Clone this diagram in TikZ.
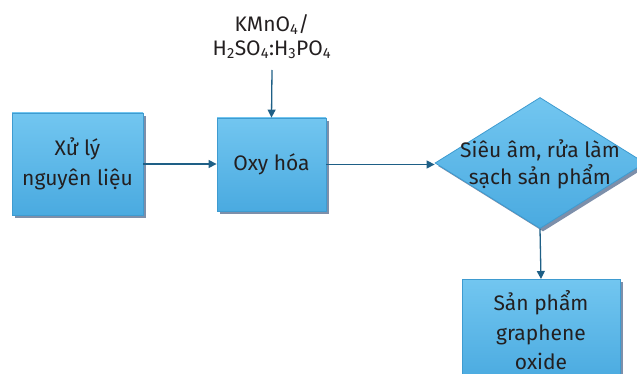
\documentclass[tikz,border=0pt]{standalone}
\usepackage{fontspec}
\setmainfont{Fira Sans}
\usetikzlibrary{shapes.geometric,arrows.meta,shadows}
\definecolor{boxtop}{HTML}{72C6F0}
\definecolor{boxbot}{HTML}{4AAAE0}
\definecolor{boxline}{HTML}{3E9BD0}
\definecolor{shadowc}{HTML}{7D8FAA}
\definecolor{arrowc}{HTML}{1E5F86}
\definecolor{textc}{HTML}{231F20}
\tikzset{
  stepbox/.style={rectangle, draw=boxline, line width=0.8pt, top color=boxtop, bottom color=boxbot,
    inner sep=0pt, align=center, text=textc, font=\fontsize{21}{29.5}\selectfont,
    drop shadow={shadow xshift=3pt, shadow yshift=-3pt, fill=shadowc, opacity=1}},
  decbox/.style={diamond, draw=boxline, line width=0.8pt, top color=boxtop, bottom color=boxbot,
    inner sep=0pt, drop shadow={shadow xshift=3pt, shadow yshift=-3pt, fill=shadowc, opacity=1}},
  lbl/.style={align=center, text=textc, font=\fontsize{21}{24}\selectfont, inner sep=0pt},
  flow/.style={draw=arrowc, line width=1.3pt, -{Triangle[length=8pt,width=8pt]}}
}
\begin{document}
\begin{tikzpicture}[x=1pt,y=-1pt]
\useasboundingbox (0,0) rectangle (637,374);
\node[stepbox, minimum width=131pt, minimum height=102pt] (prep) at (77.5,164) {Xử lý\\nguyên liệu};
\node[stepbox, minimum width=109pt, minimum height=93pt] (oxi) at (271.5,164.5) {Oxy hóa};
\node[decbox, minimum width=210pt, minimum height=131pt] (sono) at (540,163) {};
\node[lbl, font=\fontsize{21}{27}\selectfont] (sonot) at (540,164) {Siêu âm, rửa làm\\sạch sản phẩm};
\node[stepbox, minimum width=158pt, minimum height=102pt, anchor=north] (prod) at (541,279) {Sản phẩm\\graphene\\oxide};
\node[lbl] (reag) at (272,37) {KMnO\textsubscript{4}/\\H\textsubscript{2}SO\textsubscript{4}:H\textsubscript{3}PO\textsubscript{4}};
\coordinate (rtop) at (272,70);
\draw[flow] (prep.east) -- (prep.east -| oxi.west);
\draw[flow] (rtop) -- (oxi.north);
\draw[flow] (oxi.east) -- (oxi.east -| sono.west);
\draw[flow] (sono.south) -- (prod.north);
\end{tikzpicture}
\end{document}
